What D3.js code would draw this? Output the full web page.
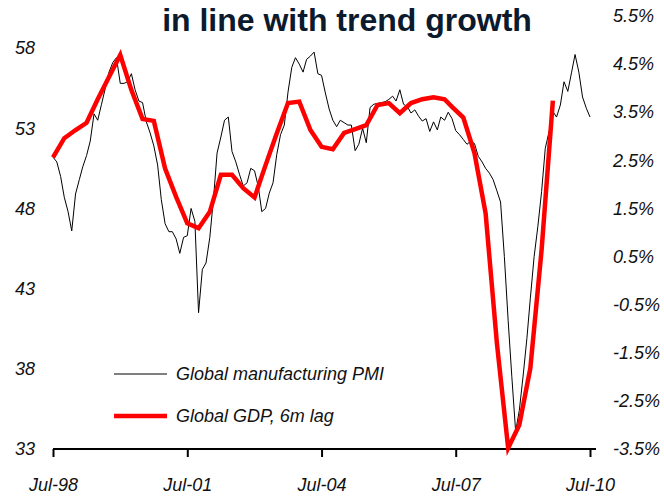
<!DOCTYPE html>
<html><head><meta charset="utf-8">
<script src="https://cdn.jsdelivr.net/npm/d3@7"></script>
<style>
html,body{margin:0;padding:0;background:#fff;}
svg{display:block;}
text{font-family:"Liberation Sans",Arial,sans-serif;}
</style></head><body>
<svg id="chart" width="664" height="499"></svg>
<script>
// Global manufacturing PMI, monthly from Jul-98
const pmiStart = "1998-07";
const pmiValues = [
  51.2, 50.9, 50.0, 48.7, 47.8, 46.6, 48.9, 49.8, 50.6, 51.3, 52.2, 53.9,
  53.5, 54.5, 55.5, 56.5, 57.1, 57.4, 55.8, 55.8, 55.9, 56.4, 55.4, 54.7,
  54.6, 53.4, 52.7, 51.9, 50.7, 48.55, 47.05, 46.55, 46.55, 46.1, 45.2, 46.2,
  46.3, 48.0, 47.2, 41.5, 44.2, 44.6, 46.2, 48.7, 51.45, 52.45, 53.5, 53.7,
  51.55, 50.9, 50.1, 49.4, 49.6, 50.5, 50.35, 49.35, 47.8, 48.0, 48.95, 49.6,
  51.35, 52.6, 53.2, 55.25, 56.8, 57.4, 57.0, 56.5, 57.3, 57.5, 57.75, 56.4,
  56.3, 55.2, 54.2, 53.5, 53.1, 53.5, 53.35, 53.2, 53.2, 51.6, 52.0, 53.0,
  52.1, 54.3, 54.5, 54.55, 54.6, 54.65, 54.8, 55.0, 54.7, 55.4, 54.5, 54.35,
  53.95, 54.15, 53.75, 53.45, 53.6, 52.8, 53.4, 52.9, 53.7, 53.5, 54.0, 53.6,
  52.85, 52.6, 52.3, 52.0, 52.2, 52.05, 51.25, 50.9, 50.5, 50.2, 49.8, 49.1,
  48.4, 45.0, 41.0, 37.5, 34.1, 35.4, 37.55, 39.9, 42.4, 45.0, 46.85, 49.05,
  51.75, 52.8, 54.05, 53.7, 54.45, 55.9, 55.3, 56.5, 57.6, 56.5, 54.95, 54.25,
  53.7
];

// Global GDP growth (% y/y), shifted by six months
const gdpDates = [
  "1998-07","1998-10","1999-01","1999-04","1999-07","1999-10","2000-01","2000-04",
  "2000-07","2000-10","2001-01","2001-04","2001-07","2001-10","2002-01","2002-04",
  "2002-07","2002-10","2003-01","2003-04","2003-07","2003-10","2004-01","2004-04",
  "2004-07","2004-10","2005-01","2005-04","2005-07","2005-10","2006-01","2006-04",
  "2006-07","2006-10","2007-01","2007-04","2007-06","2007-09","2007-12","2008-03",
  "2008-06","2008-09","2008-12","2009-03","2009-06","2009-09"
];
const gdpValues = [
  2.56, 2.96, 3.13, 3.28, 3.77, 4.23, 4.69, 3.96,
  3.36, 3.32, 2.33, 1.74, 1.19, 1.09, 1.43, 2.20,
  2.20, 1.92, 1.73, 2.40, 3.06, 3.69, 3.72, 3.13,
  2.78, 2.73, 3.07, 3.15, 3.23, 3.65, 3.69, 3.48,
  3.69, 3.77, 3.81, 3.77, 3.61, 3.39, 2.65, 1.40,
  -1.30, -3.48, -3.00, -1.82, 0.64, 3.74
];

const xTicks = ["1998-07","2001-07","2004-07","2007-07","2010-07"];
const leftTicks = [33, 38, 43, 48, 53, 58];
const rightTicks = [-3.5, -2.5, -1.5, -0.5, 0.5, 1.5, 2.5, 3.5, 4.5, 5.5];
const seriesNames = ["Global manufacturing PMI", "Global GDP, 6m lag"];
const titleText = "in line with trend growth";

const parse = d3.timeParse("%Y-%m");
const fmt = d3.timeFormat("%b-%y");
const svg = d3.select("#chart");

const x = d3.scaleTime().domain([parse("1998-07"), parse("2010-07")]).range([53, 590]);
const yL = d3.scaleLinear().domain([33, 60]).range([449, 16]);
const yR = d3.scaleLinear().domain([-3.5, 5.5]).range([449, 16]);

const start = parse(pmiStart);
const pmi = pmiValues.map((v, i) => ({date: d3.timeMonth.offset(start, i), v}));
const gdp = gdpDates.map((d, i) => ({date: parse(d), v: gdpValues[i]}));

const labelStyle = sel => sel.selectAll("text")
  .attr("font-size", 18).attr("font-style", "italic").attr("fill", "#111")
  .attr("font-family", "'Liberation Sans', Arial, sans-serif");

// title
svg.append("text").attr("x", 347).attr("y", 31).attr("text-anchor", "middle")
  .attr("font-size", 32).attr("font-weight", "bold").attr("fill", "#0b1a2c")
  .text(titleText);

// bottom axis; the baseline runs a little past the last tick
const gx = svg.append("g").attr("transform", "translate(0,449)")
  .call(d3.axisBottom(x).tickValues(xTicks.map(parse)).tickFormat(fmt)
    .tickSize(8).tickSizeOuter(0).tickPadding(21));
gx.select(".domain").attr("d", `M${x.range()[0]},0H${x.range()[1] + 6}`)
  .attr("stroke", "#000").attr("stroke-width", 2);
gx.selectAll(".tick line").attr("stroke", "#000").attr("stroke-width", 2);
labelStyle(gx);

// left axis (PMI)
const gl = svg.append("g").attr("transform", "translate(35,0)")
  .call(d3.axisLeft(yL).tickValues(leftTicks).tickSize(0).tickPadding(0));
gl.select(".domain").remove();
labelStyle(gl);

// right axis (GDP)
const gr = svg.append("g").attr("transform", "translate(613,0)")
  .call(d3.axisRight(yR).tickValues(rightTicks).tickSize(0).tickPadding(0)
    .tickFormat(d => d.toFixed(1) + "%"));
gr.select(".domain").remove();
labelStyle(gr);

// series
const linePmi = d3.line().x(d => x(d.date)).y(d => yL(d.v));
const lineGdp = d3.line().x(d => x(d.date)).y(d => yR(d.v));

svg.append("path").datum(pmi).attr("d", linePmi)
  .attr("fill", "none").attr("stroke", "#000").attr("stroke-width", 1);
svg.append("path").datum(gdp).attr("d", lineGdp)
  .attr("fill", "none").attr("stroke", "#ff0000").attr("stroke-width", 4.5)
  .attr("stroke-linejoin", "miter").attr("stroke-miterlimit", 10);

// legend
const legend = svg.append("g");
const items = [
  {name: seriesNames[0], color: "#000", w: 1, y: 374},
  {name: seriesNames[1], color: "#ff0000", w: 4.5, y: 416}
];
items.forEach(it => {
  legend.append("line").attr("x1", 114).attr("x2", 167).attr("y1", it.y).attr("y2", it.y)
    .attr("stroke", it.color).attr("stroke-width", it.w);
  legend.append("text").attr("x", 176).attr("y", it.y).attr("dy", "0.35em")
    .attr("font-size", 18).attr("font-style", "italic").attr("fill", "#111")
    .text(it.name);
});
</script>
</body></html>
